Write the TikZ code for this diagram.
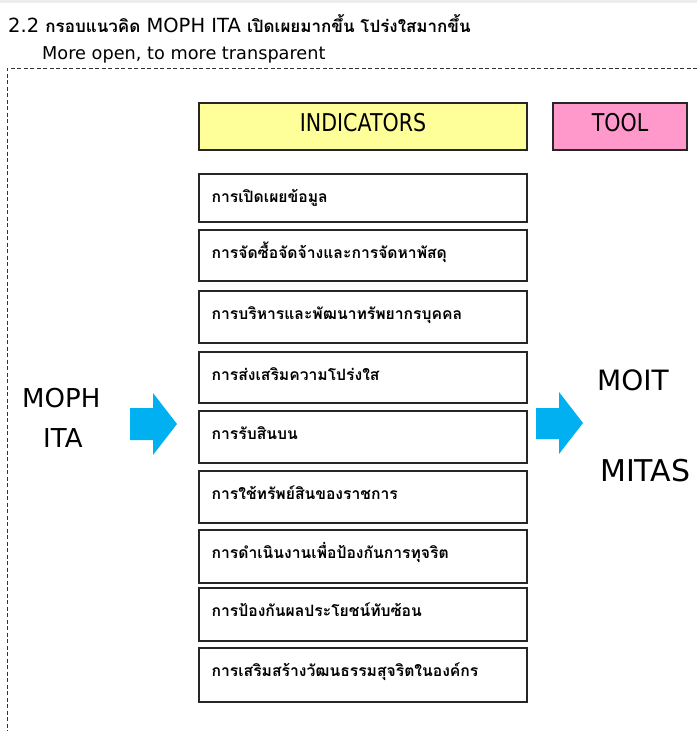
\documentclass[tikz,border=0pt]{standalone}
\usepackage{fontspec}
\setmainfont{DejaVu Sans}
\newfontfamily\thaifont[Script=Thai]{Loma}
\newcommand\thx[1]{{\thaifont\bfseries\fontsize{17}{20}\selectfont #1}}
\definecolor{hdryellow}{HTML}{FFFF99}
\definecolor{hdrpink}{HTML}{FF99CC}
\definecolor{arrowblue}{HTML}{00B0F0}
\begin{document}
\begin{tikzpicture}[x=1pt,y=-1pt,
  frame/.style={draw=black!80, line width=0.9pt, dash pattern=on 4pt off 2.5pt},
  ibox/.style={draw=black!85, line width=1.2pt, minimum width=328pt, inner sep=0pt},
  itext/.style={anchor=base west, inner sep=0pt, font=\thaifont\bfseries\fontsize{15.7}{17}\selectfont},
  hdr/.style={draw=black!85, line width=1.2pt, minimum height=47pt, inner sep=0pt,
    text height=18pt, text depth=9pt, font=\fontsize{24.5}{26}\selectfont},
  big/.style={anchor=base west, inner sep=0pt},
  blue arrow/.style={fill=arrowblue}
]
\useasboundingbox (0,0) rectangle (697,731);
\fill[black!7] (0,0) rectangle (697,3);
\node[anchor=base west, inner sep=0pt, font=\fontsize{19.5}{22}\selectfont] (title) at (8,32)
  {2.2 \thx{กรอบแนวคิด} MOPH ITA \thx{เปิดเผยมากขึ้น โปร่งใสมากขึ้น}};
\node[anchor=base west, inner sep=0pt, font=\fontsize{17.7}{20}\selectfont] (sub) at (42,59)
  {More open, to more transparent};
\draw[frame] (697,68) -- (7,68) -- (7,731);
\node[hdr, fill=hdryellow, minimum width=328pt] (ind) at (363,126.5) {\scalebox{0.84}[1]{INDICATORS}};
\node[hdr, fill=hdrpink, minimum width=134pt] (tool) at (620,126.5) {\scalebox{0.84}[1]{TOOL}};
\foreach \t/\b/\txt [count=\i] in {
  174/222/การเปิดเผยข้อมูล,
  230/281/การจัดซื้อจัดจ้างและการจัดหาพัสดุ,
  291/343/การบริหารและพัฒนาทรัพยากรบุคคล,
  352/403/การส่งเสริมความโปร่งใส,
  411/463/การรับสินบน,
  471/523/การใช้ทรัพย์สินของราชการ,
  530/583/การดำเนินงานเพื่อป้องกันการทุจริต,
  588/641/การป้องกันผลประโยชน์ทับซ้อน,
  648/702/การเสริมสร้างวัฒนธรรมสุจริตในองค์กร}{
  \node[ibox, minimum height={\b-\t}] (b\i) at (363,{(\t+\b)/2}) {};
  \node[itext] (t\i) at ([xshift=13pt,yshift=-29pt]b\i.north west) {\txt};
}
\node[big, font=\fontsize{26}{28}\selectfont] (moph) at (22,407) {MOPH};
\node[big, font=\fontsize{26}{28}\selectfont] (ita) at (43,447) {ITA};
\node[big, font=\fontsize{28}{30}\selectfont] (moit) at (597,390) {MOIT};
\node[big, font=\fontsize{30}{32}\selectfont] (mitas) at (600,481) {MITAS};
\fill[blue arrow] (130,408) -- (153,408) -- (153,393) -- (177,424) -- (153,455) -- (153,440) -- (130,440) -- cycle;
\fill[blue arrow] (536,408) -- (559,408) -- (559,392) -- (583,423) -- (559,454) -- (559,439) -- (536,439) -- cycle;
\end{tikzpicture}
\end{document}
